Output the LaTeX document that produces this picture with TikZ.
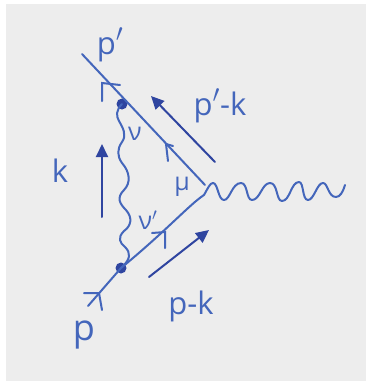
\documentclass[tikz,border=0pt]{standalone}
\usepackage{fontspec}
\setmainfont{Open Sans}
\usetikzlibrary{arrows.meta}
\definecolor{ink}{HTML}{4466BB}
\definecolor{darkink}{HTML}{2F45A0}
\definecolor{paper}{HTML}{EDEDED}
\newcommand{\bigprime}{\raisebox{0.12em}{\fontsize{40}{40}\selectfont$'$}}
\tikzset{
 fermion/.style={draw=ink,line width=2pt,line cap=round},
 photon/.style={draw=ink,line width=2pt,line cap=round,line join=round},
 momentum/.style={draw=darkink,line width=2pt,line cap=round,-{Triangle[length=13pt,width=12pt]}},
 tick/.style={draw=ink,line width=2pt,line cap=round},
 vertexdot/.style={circle,fill=darkink,inner sep=0pt,minimum size=11pt},
 lbl/.style={text=ink,inner sep=0pt,font=\fontsize{31}{31}\selectfont},
 smalllbl/.style={text=ink,inner sep=0pt,font=\fontsize{25}{25}\selectfont},
}
\begin{document}
\begin{tikzpicture}[x=1pt,y=-1pt]
\useasboundingbox (0,0) rectangle (366,381);
\fill[white] (0,0) rectangle (366,381);
\fill[paper] (6,4) rectangle (366,381);
% fixed points
\coordinate (topend) at (82,54);
\coordinate (apex) at (205,185);
\coordinate (apexlow) at (204,195);
\coordinate (botend) at (88,306);
\node[vertexdot] (vtop) at (122,104) {};
\node[vertexdot] (vbot) at (121,268) {};
% fermion lines
\draw[fermion] (topend) -- (apex);
\draw[fermion] (apexlow) .. controls (190,204) and (165,232) .. (vbot.center) -- (botend);
% chevrons
\coordinate (c1) at (102,83);
\draw[tick] (120,85) -- (c1) -- (102,101);
\coordinate (c2) at (166,144);
\draw[tick] (173,146) -- (c2) -- (168,161);
\coordinate (c3) at (165,232);
\draw[tick] (152,233) -- (c3) -- (165,248);
\coordinate (c4) at (99,293);
\draw[tick] (84,293) -- (c4) -- (102,310);
% internal photon
\draw[photon] (vtop.center) .. controls (116,110) and (116,116) .. (119,121)
 .. controls (123,128) and (127,135) .. (122,142)
 .. controls (117,149) and (117,156) .. (122,163)
 .. controls (130,172) and (131,183) .. (124,190)
 .. controls (116,198) and (120,204) .. (126,210)
 .. controls (133,218) and (131,226) .. (124,231)
 .. controls (117,238) and (120,243) .. (125,247)
 .. controls (131,253) and (131,259) .. (vbot.center);
% external photon
\coordinate (wend) at (345,185);
\draw[photon] (apexlow) .. controls (208,188) and (210,183) .. (213,183)
 .. controls (218,183) and (218,200) .. (224,200)
 .. controls (230,200) and (232,183) .. (241,183)
 .. controls (248,183) and (246,200) .. (252,200)
 .. controls (260,200) and (262,183) .. (270,183)
 .. controls (278,183) and (276,201) .. (282,201)
 .. controls (290,201) and (291,182) .. (299,182)
 .. controls (304,182) and (302,200) .. (308,200)
 .. controls (314,200) and (317,183) .. (323,183)
 .. controls (328,183) and (328,197) .. (336,197)
 .. controls (340,197) and (343,192) .. (wend);
% momentum arrows
\coordinate (a1s) at (215,162); \coordinate (a1e) at (151,96);
\draw[momentum] (a1s) -- (a1e);
\coordinate (a2s) at (102,217); \coordinate (a2e) at (102,144);
\draw[momentum] (a2s) -- (a2e);
\coordinate (a3s) at (149,277); \coordinate (a3e) at (209,230);
\draw[momentum] (a3s) -- (a3e);
% labels
\node[lbl] (lp1) at (110,45) {p\bigprime};
\node[lbl] (lp2) at (220,106) {p\bigprime-k};
\node[lbl] (lk) at (60,171) {k};
\node[smalllbl] (lnu) at (135,134) {ν};
\node[smalllbl] (lmu) at (182,187) {μ};
\node[smalllbl] (lnu2) at (148,220) {ν$'$};
\node[font=\fontsize{36}{36}\selectfont,text=ink,inner sep=0pt] (lp) at (84,335) {p};
\node[lbl] (lpk) at (191,306) {p-k};
\end{tikzpicture}
\end{document}
